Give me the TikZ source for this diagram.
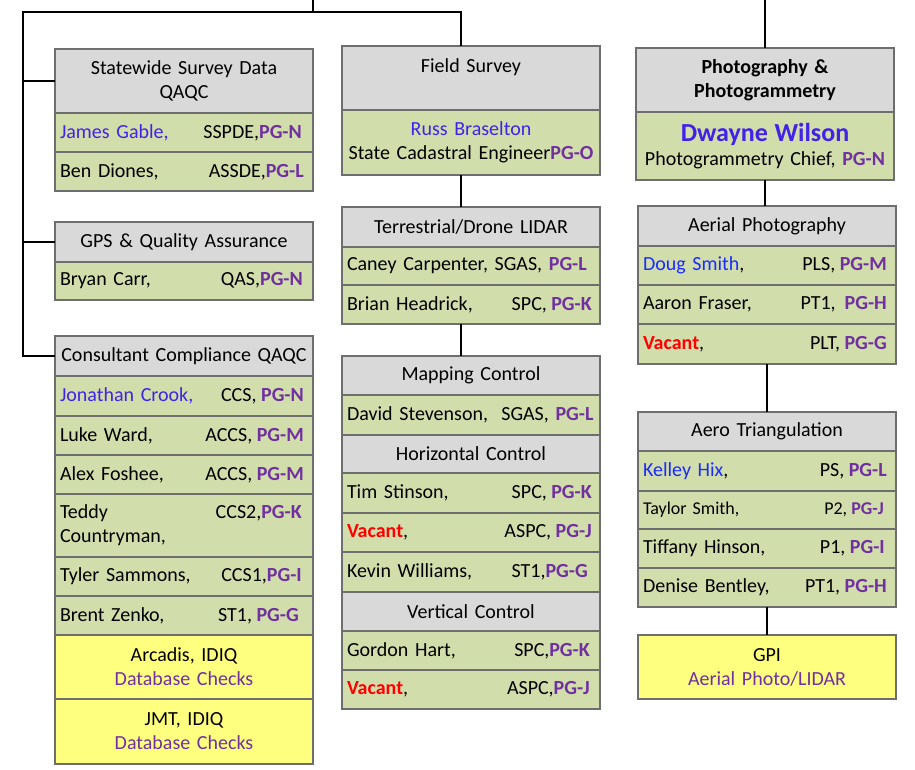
\documentclass[tikz,border=0pt]{standalone}
\usepackage{fontspec}
\setmainfont{Carlito}
\definecolor{headgray}{HTML}{D9D9D9}
\definecolor{rowgreen}{HTML}{D2DDAC}
\definecolor{idiqyellow}{HTML}{FFFF7F}
\definecolor{boxline}{HTML}{6E6E6E}
\definecolor{pgpurple}{HTML}{7030A0}
\definecolor{leadblue}{HTML}{4022E8}
\definecolor{staffblue}{HTML}{1A2BFF}
\newcommand{\pgr}[1]{\textcolor{pgpurple}{\bfseries #1}}
\newcommand{\who}[1]{\textcolor{leadblue}{#1}}
\newcommand{\whob}[1]{\textcolor{staffblue}{#1}}
\newcommand{\vacant}{\textcolor{red}{\bfseries Vacant}}

\begin{document}
\begin{tikzpicture}[x=1pt,y=-1pt,
  font=\fontsize{20}{24}\selectfont,
  wire/.style={line width=2.6,black},
  headbox/.style={draw=boxline,line width=1.8,fill=headgray,anchor=north west,
    inner xsep=5,inner ysep=0,outer sep=0,text width=248,align=center,minimum height=39},
  staffrow/.style={draw=boxline,line width=1.8,fill=rowgreen,anchor=north west,
    inner xsep=5,inner ysep=0,outer sep=0,text width=248,align=left,minimum height=39},
  staffrowc/.style={staffrow,align=center},
  idiqbox/.style={staffrowc,fill=idiqyellow,minimum height=64},
  grade/.style={anchor=base east,inner sep=0}]
\useasboundingbox (0,0) rectangle (915,770);

% left column
\node[headbox,minimum height=64] (sw) at (55,49) {Statewide Survey Data\\QAQC};
\node[staffrow] (sw1) at (sw.south west) {\who{James Gable,}};
\node[grade] (sw1g) at ([xshift=-11]sw1.base east) {SSPDE,\pgr{PG-N}};
\node[staffrow] (sw2) at (sw1.south west) {Ben Diones,};
\node[grade] (sw2g) at ([xshift=-9]sw2.base east) {ASSDE,\pgr{PG-L}};

\node[headbox,minimum height=40] (gps) at (55,222) {GPS \& Quality Assurance};
\node[staffrow,minimum height=38] (gps1) at (gps.south west) {Bryan Carr,};
\node[grade] (gps1g) at ([xshift=-10]gps1.base east) {QAS,\pgr{PG-N}};

\node[headbox,minimum height=40] (cc) at (55,336) {Consultant Compliance QAQC};
\node[staffrow,minimum height=40] (cc1) at (cc.south west) {\who{Jonathan Crook,}};
\node[grade] (cc1g) at ([xshift=-9]cc1.base east) {CCS, \pgr{PG-N}};
\node[staffrow] (cc2) at (cc1.south west) {Luke Ward,};
\node[grade] (cc2g) at ([xshift=-9]cc2.base east) {ACCS, \pgr{PG-M}};
\node[staffrow] (cc3) at (cc2.south west) {Alex Foshee,};
\node[grade] (cc3g) at ([xshift=-9]cc3.base east) {ACCS, \pgr{PG-M}};
\node[staffrow,minimum height=63] (cc4) at (cc3.south west) {Teddy\\Countryman,};
\node[grade] (cc4g) at ([xshift=-11]cc4.base east) {CCS2,\pgr{PG-K}};
\node[staffrow] (cc5) at (cc4.south west) {Tyler Sammons,};
\node[grade] (cc5g) at ([xshift=-11]cc5.base east) {CCS1,\pgr{PG-I}};
\node[staffrow] (cc6) at (cc5.south west) {Brent Zenko,};
\node[grade] (cc6g) at ([xshift=-14]cc6.base east) {ST1, \pgr{PG-G}};
\node[idiqbox] (cc7) at (cc6.south west) {Arcadis, IDIQ\\\textcolor{pgpurple}{Database Checks}};
\node[idiqbox,minimum height=65] (cc8) at (cc7.south west) {JMT, IDIQ\\\textcolor{pgpurple}{Database Checks}};

% middle column
\node[headbox,minimum height=64] (fs) at (342,46) {Field Survey\\~};
\node[staffrowc,minimum height=65] (fs1) at (fs.south west) {\who{Russ Braselton}\\State Cadastral Engineer\pgr{PG-O}};

\node[headbox,minimum height=40] (tl) at (342,207) {Terrestrial/Drone LIDAR};
\node[staffrow,minimum height=38] (tl1) at (tl.south west) {Caney Carpenter, SGAS, \pgr{PG-L}};
\node[staffrow] (tl2) at (tl1.south west) {Brian Headrick,};
\node[grade] (tl2g) at ([xshift=-8]tl2.base east) {SPC, \pgr{PG-K}};

\node[headbox] (mc) at (342,356) {Mapping Control};
\node[staffrow,minimum height=40] (mc1) at (mc.south west) {David Stevenson,\ \ SGAS, \pgr{PG-L}};
\node[headbox,minimum height=38] (hc) at (mc1.south west) {Horizontal Control};
\node[staffrow,minimum height=40] (hc1) at (hc.south west) {Tim Stinson,};
\node[grade] (hc1g) at ([xshift=-8]hc1.base east) {SPC, \pgr{PG-K}};
\node[staffrow] (hc2) at (hc1.south west) {\vacant,};
\node[grade] (hc2g) at ([xshift=-8]hc2.base east) {ASPC, \pgr{PG-J}};
\node[staffrow,minimum height=40] (hc3) at (hc2.south west) {Kevin Williams,};
\node[grade] (hc3g) at ([xshift=-12]hc3.base east) {ST1,\pgr{PG-G}};
\node[headbox] (vc) at (hc3.south west) {Vertical Control};
\node[staffrow] (vc1) at (vc.south west) {Gordon Hart,};
\node[grade] (vc1g) at ([xshift=-10]vc1.base east) {SPC,\pgr{PG-K}};
\node[staffrow] (vc2) at (vc1.south west) {\vacant,};
\node[grade] (vc2g) at ([xshift=-10]vc2.base east) {ASPC,\pgr{PG-J}};

% right column
\node[headbox,minimum height=64,font=\fontsize{20}{24}\selectfont\bfseries] (pp) at (636,48) {Photography \&\\Photogrammetry};
\node[staffrowc,minimum height=68] (pp1) at (pp.south west) {{\fontsize{26}{30}\selectfont\bfseries\who{Dwayne Wilson}}\\Photogrammetry Chief, \pgr{PG-N}};

\node[headbox,minimum height=40] (ap) at (638,206) {Aerial Photography};
\node[staffrow] (ap1) at (ap.south west) {\whob{Doug Smith},};
\node[grade] (ap1g) at ([xshift=-9]ap1.base east) {PLS, \pgr{PG-M}};
\node[staffrow] (ap2) at (ap1.south west) {Aaron Fraser,};
\node[grade] (ap2g) at ([xshift=-9]ap2.base east) {PT1,\ \ \pgr{PG-H}};
\node[staffrow,minimum height=40] (ap3) at (ap2.south west) {\vacant,};
\node[grade] (ap3g) at ([xshift=-9]ap3.base east) {PLT, \pgr{PG-G}};

\node[headbox] (at) at (638,412) {Aero Triangulation};
\node[staffrow,minimum height=40] (at1) at (at.south west) {\whob{Kelley Hix},};
\node[grade] (at1g) at ([xshift=-9]at1.base east) {PS, \pgr{PG-L}};
\node[staffrow,minimum height=38,font=\fontsize{18}{22}\selectfont] (at2) at (at1.south west) {Taylor Smith,};
\node[grade,font=\fontsize{18}{22}\selectfont] (at2g) at ([xshift=-12]at2.base east) {P2, \pgr{PG-J}};
\node[staffrow] (at3) at (at2.south west) {Tiffany Hinson,};
\node[grade] (at3g) at ([xshift=-11]at3.base east) {P1, \pgr{PG-I}};
\node[staffrow] (at4) at (at3.south west) {Denise Bentley,};
\node[grade] (at4g) at ([xshift=-9]at4.base east) {PT1, \pgr{PG-H}};
\node[idiqbox] (gpi) at (638,635) {GPI\\\textcolor{pgpurple}{Aerial Photo/LIDAR}};

% connectors
\coordinate (root) at (313,0);
\coordinate (busL) at (23,12);
\coordinate (busM) at (461,12);
\coordinate (rtop) at (765,0);
\draw[wire] (root) -- (root |- busL);
\draw[wire] (cc.west) -| (busL) -- (busM) -- (busM |- fs.north);
\draw[wire] (busL |- sw.west) -- (sw.west);
\draw[wire] (busL |- gps.west) -- (gps.west);
\draw[wire] ([xshift=-10]fs1.south) -- ([xshift=-10]tl.north);
\draw[wire] ([xshift=-10]tl2.south) -- ([xshift=-10]mc.north);
\draw[wire] (rtop) -- (pp.north);
\draw[wire] (pp1.south) -- (pp1.south |- ap.north);
\draw[wire] (ap3.south) -- (at.north);
\draw[wire] (at4.south) -- (gpi.north);
%\draw[wire] (sw2.south) -- (gps.north);
\end{tikzpicture}
\end{document}
